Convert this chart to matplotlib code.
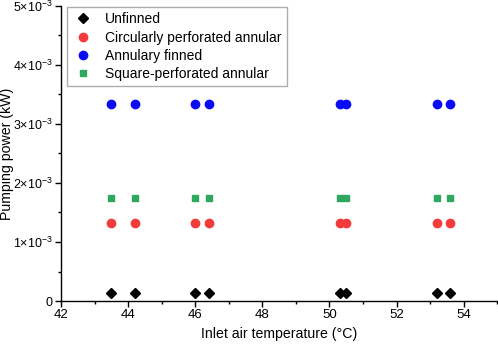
import numpy as np
import matplotlib
matplotlib.use("Agg")
import matplotlib.pyplot as plt
import matplotlib.ticker as tkr

plt.rcParams['font.family'] = ['Liberation Sans', 'DejaVu Sans']
plt.rcParams['mathtext.fontset'] = 'custom'
plt.rcParams['mathtext.rm'] = 'Liberation Sans'
plt.rcParams['mathtext.it'] = 'Liberation Sans:italic'
plt.rcParams['mathtext.bf'] = 'Liberation Sans:bold'

# data
temps = [43.5, 44.2, 46.0, 46.4, 50.3, 50.5, 53.2, 53.6]
unfinned = [0.13e-3] * 8
circ_perf = [1.33e-3] * 8
annular = [3.33e-3] * 8
square_perf = [1.74e-3] * 8


def sci_fmt(y, _):
    if abs(y) < 1e-12:
        return '0'
    return '%d×10$^{\\mathregular{-3}}$' % round(y * 1e3)


fig = plt.figure(figsize=(4.98, 3.48), dpi=100)
ax = fig.add_axes([0.1225, 0.135, 0.876, 0.848])

ax.plot(temps, unfinned, 'D', color='black', ms=5.5, ls='none', label='Unfinned')
ax.plot(temps, circ_perf, 'o', color='#f23c3c', ms=6, ls='none', label='Circularly perforated annular')
ax.plot(temps, annular, 'o', color='#0a0af5', ms=6, ls='none', label='Annulary finned')
ax.plot(temps, square_perf, 's', color='#2ea85e', ms=5, ls='none', label='Square-perforated annular')

ax.set_xlim(42, 55)
ax.set_ylim(0, 5e-3)
ax.xaxis.set_major_locator(tkr.MultipleLocator(2))
ax.xaxis.set_minor_locator(tkr.MultipleLocator(1))
ax.yaxis.set_major_locator(tkr.MultipleLocator(1e-3))
ax.yaxis.set_minor_locator(tkr.MultipleLocator(0.5e-3))
ax.yaxis.set_major_formatter(tkr.FuncFormatter(sci_fmt))
ax.tick_params(which='major', direction='out', length=4, width=1, pad=2)
ax.tick_params(axis='x', labelsize=9.5)
ax.tick_params(axis='y', labelsize=9)
ax.tick_params(which='minor', direction='out', length=2.5, width=1)

for side in ['top', 'right']:
    ax.spines[side].set_visible(False)
for side in ['left', 'bottom']:
    ax.spines[side].set_linewidth(1)

ax.set_xlabel('Inlet air temperature (°C)', fontsize=10.2)
ax.set_ylabel('Pumping power (kW)', fontsize=10.2)
ax.yaxis.set_label_coords(-0.108, 0.5)

leg = ax.legend(loc='upper left', bbox_to_anchor=(0.0138, 0.997), borderaxespad=0,
                fontsize=10, frameon=True, fancybox=False,
                edgecolor='#999999', handletextpad=0.8, borderpad=0.4,
                labelspacing=0.3, handlelength=1.5)
leg.get_frame().set_linewidth(1)

fig.savefig('out.png', dpi=100)
